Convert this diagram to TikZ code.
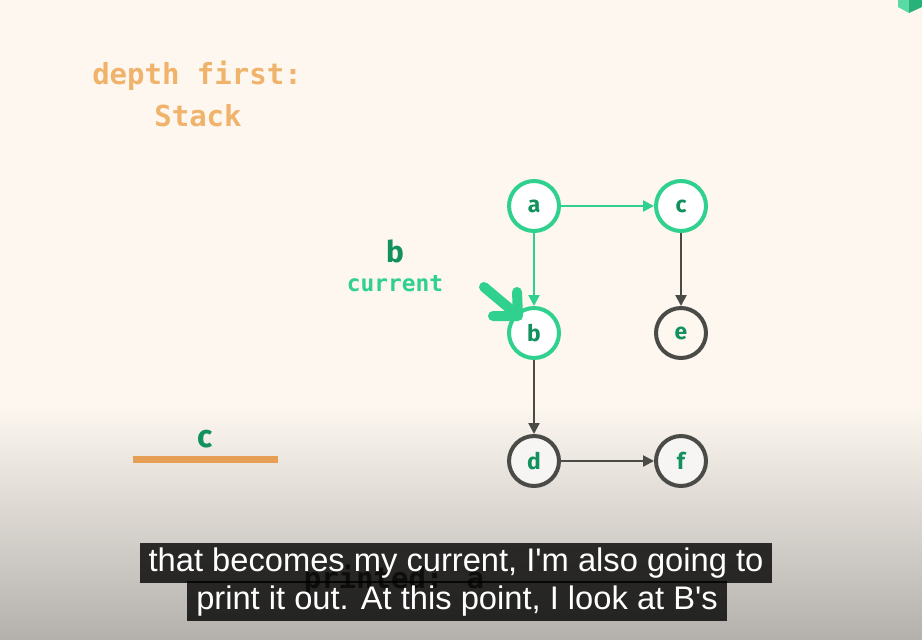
\documentclass[tikz,border=0pt]{standalone}
\usepackage{fontspec}
\usepackage{tikz}
\usetikzlibrary{arrows.meta}
\newfontfamily\codefont{DejaVu Sans Mono}
\newfontfamily\labelfont{Fira Sans}
\newfontfamily\capfont{Liberation Sans}
\definecolor{paper}{HTML}{FDF7F0}
\definecolor{shade}{HTML}{B4B1AD}
\definecolor{mint}{HTML}{30D08F}
\definecolor{leaf}{HTML}{12905D}
\definecolor{slate}{HTML}{4A4A47}
\definecolor{peach}{HTML}{F0B36B}
\definecolor{bar}{HTML}{E79E55}
\tikzset{
  vertex/.style={circle, draw=mint, line width=0.08cm, fill=white, minimum size=1.0cm,
    inner sep=0pt, text=leaf, font=\labelfont\bfseries\fontsize{13}{13}\selectfont},
  idle/.style={vertex, draw=slate},
  link/.style={line width=0.045cm, -{Triangle[length=0.22cm,width=0.22cm]}},
  caption/.style={fill=black, fill opacity=0.8, text opacity=1, text=white,
    inner xsep=0.18cm, inner ysep=2pt, text height=14pt, text depth=4.5pt,
    font=\capfont\fontsize{18.6}{20}\selectfont}
}
\begin{document}
\begin{tikzpicture}[x=0.02cm,y=-0.02cm]
% background
\useasboundingbox (0,0) rectangle (922,639);
\fill[paper] (0,0) rectangle (922,639);
\fill[top color=paper, bottom color=shade] (0,405) rectangle (922,639);
\fill[mint!80!white] (898,0) -- (898,7) -- (909,13) -- (909,0) -- cycle;
\fill[mint!85!black] (909,0) -- (909,13) -- (922,7) -- (922,0) -- cycle;

% title
\node[anchor=base, text=peach, font=\codefont\bfseries\fontsize{16.5}{20}\selectfont] (title) at (197,84) {depth first:};
\node[anchor=base, text=peach, font=\codefont\bfseries\fontsize{16.5}{20}\selectfont] (kind) at (198,126) {Stack};

% graph
\node[vertex] (a) at (534,206) {a};
\node[vertex] (c) at (681,206) {c};
\node[vertex] (b) at (534,333) {b};
\node[idle, fill=paper] (e) at (681,333) {e};
\node[idle, fill=white!70!paper!90!shade] (d) at (534,461) {d};
\node[idle, fill=white!70!paper!90!shade] (f) at (681,461) {f};
\draw[link, mint] (a) -- (c);
\draw[link, mint] (a) -- (b);
\draw[link, slate] (c) -- (e);
\draw[link, slate] (b) -- (d);
\draw[link, slate] (d) -- (f);

% current pointer
\node[anchor=base, text=leaf, font=\labelfont\bfseries\fontsize{17}{20}\selectfont] (cur) at (395,262) {b};
\node[anchor=base, text=mint, font=\codefont\bfseries\fontsize{13}{16}\selectfont] (curlbl) at (395,291) {current};
\draw[mint, line width=0.2cm, line cap=round] (484,287) -- (515,313);
\draw[mint, line width=0.2cm, line cap=round, line join=round] (517,292) -- (518,316) -- (493,316);

% stack
\draw[bar, line width=0.14cm] (133,459) -- (278,459);
\node[anchor=base, text=leaf, font=\labelfont\bfseries\fontsize{18}{20}\selectfont] (top) at (205,447) {c};
\node[anchor=base, text=slate!90!black, font=\codefont\bfseries\fontsize{16.5}{20}\selectfont] (out) at (394,588) {printed: a};

% subtitles
\node[caption] (line1) at (456,563) {that becomes my current, I'm also going to};
\node[caption] (line2) at (457,601) {print it out. At this point, I look at B's};
\end{tikzpicture}
\end{document}
